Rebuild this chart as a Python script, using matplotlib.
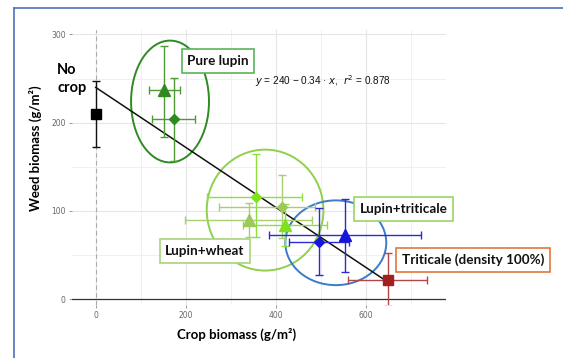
import matplotlib
matplotlib.use("Agg")
import matplotlib.pyplot as plt
from matplotlib.patches import Ellipse
from matplotlib.lines import Line2D

# ---------------- data ----------------
# points: label, x, y, x-err low/high, y-err low/high
pt_names   = ["No crop", "Lupin tri", "Lupin dia",
              "LW dia bright", "LW tri olive", "LW dia olive", "LW tri bright",
              "LT dia", "LT tri", "Triticale"]
pt_x       = [0, 152, 173, 355, 340, 414, 420, 496, 553, 648]
pt_y       = [210, 237, 204, 116, 90, 105, 84, 65, 73, 22]
pt_xlo     = [0, 118, 126, 248, 199, 274, 328, 430, 385, 561]
pt_xhi     = [0, 187, 221, 459, 481, 487, 513, 562, 721, 735]
pt_ylo     = [172, 184, 157, 70, 70, 69, 60, 27, 31, -8]
pt_yhi     = [247, 287, 251, 164, 109, 141, 108, 103, 114, 52]
pt_marker  = ["s", "^", "D", "D", "^", "D", "^", "D", "^", "s"]
pt_color   = ["#000000", "#2f8a1f", "#2f8a1f", "#7ee21c", "#9cc95a", "#9cc95a",
              "#7ee21c", "#1616d8", "#1616d8", "#a32020"]
pt_ecolor  = ["#111111", "#4f9a35", "#4f9a35", "#8be03a", "#a8d070", "#a8d070",
              "#8be03a", "#2b2bd0", "#2b2bd0", "#b04848"]

# group ellipses: centre x, centre y, width, height
ell_x      = [165, 376, 533]
ell_y      = [224, 101, 64]
ell_w      = [173, 259, 224]
ell_h      = [138, 137, 96]
ell_color  = ["#2e8b22", "#8fd04c", "#3a7cc8"]

# regression
intercept, slope, r2 = 240, -0.34, 0.878
fit_x = [0, 648]

xticks = [0, 200, 400, 600]
yticks = [0, 100, 200, 300]

# ---------------- figure ----------------
fig = plt.figure(figsize=(5.63, 3.58), dpi=100)
ax = fig.add_axes([72/563, 1-305/358, (446-72)/563, (305-30)/358])
ax.set_xlim(-52.6, 777.6)
ax.set_ylim(-6.5, 305)

ax.set_xticks(xticks)
ax.set_yticks(yticks)
ax.set_xticks([100, 300, 500, 700], minor=True)
ax.set_yticks([50, 150, 250], minor=True)
ax.grid(True, which="major", color="#e6e6e6", lw=0.8)
ax.grid(True, which="minor", color="#eeeeee", lw=0.6)
ax.set_axisbelow(True)
for s in ax.spines.values():
    s.set_visible(False)
ax.tick_params(which="major", length=2.5, width=0.6, color="#888888",
               labelsize=5.5, labelcolor="#666666", pad=2)
ax.tick_params(which="minor", length=0)

ax.axhline(0, color="#333333", lw=0.9, zorder=1)
ax.axvline(0, color="#aaaaaa", lw=0.8, ls=(0, (4, 3)), zorder=1)

# ellipses
for cx, cy, w, h, c in zip(ell_x, ell_y, ell_w, ell_h, ell_color):
    ax.add_patch(Ellipse((cx, cy), w, h, fill=False, ec=c, lw=1.4, zorder=2))

# regression line
ax.plot(fit_x, [intercept + slope * v for v in fit_x], color="#111111", lw=1.1, zorder=3)

# points
sizes = {"s": 7, "^": 8, "D": 5}
for i in range(len(pt_x)):
    x, y = pt_x[i], pt_y[i]
    xe = [[x - pt_xlo[i]], [pt_xhi[i] - x]]
    ye = [[y - pt_ylo[i]], [pt_yhi[i] - y]]
    ax.errorbar([x], [y], xerr=xe if pt_xhi[i] > pt_xlo[i] else None, yerr=ye,
                fmt="none", ecolor=pt_ecolor[i], elinewidth=1.0, capsize=3,
                capthick=1.0, zorder=4)
    ax.plot([x], [y], marker=pt_marker[i], ms=sizes[pt_marker[i]],
            color=pt_color[i], mec=pt_color[i], ls="none", zorder=5)


def px(xp, yp):
    return xp / 563, 1 - yp / 358


# equation
fig.text(*px(255, 81), r"$y$ = 240 − 0.34 · $x$,  $r^2$ = 0.878",
         fontsize=7.2, family=["Liberation Sans Narrow", "Liberation Sans", "DejaVu Sans"],
         va="center", ha="left", color="#111111")

lab_font = ["Lato", "DejaVu Sans"]
fig.text(*px(57, 79), "No\ncrop", fontsize=10.5, fontweight="bold", family=lab_font,
         ha="left", va="center", linespacing=1.45)

boxes = [("Pure lupin", 218, 61, "#5ab45a"),
         ("Lupin+wheat", 205, 251, "#a9d67c"),
         ("Lupin+triticale", 403.5, 209, "#98d466"),
         ("Triticale (density 100%)", 473, 260, "#e0783a")]
for txt, bx, by, ec in boxes:
    fig.text(*px(bx, by), txt, fontsize=9.7, fontweight="bold", family=lab_font,
             ha="center", va="center", color="#111111",
             bbox=dict(boxstyle="square,pad=0.42", fc="white", ec=ec, lw=1.2))

fig.text(*px(237, 334), "Crop biomass (g/m²)", fontsize=9.5, fontweight="bold",
         family=lab_font, ha="center", va="center")
fig.text(*px(35, 148), "Weed biomass (g/m²)", fontsize=9.5, fontweight="bold",
         family=lab_font, ha="center", va="center", rotation=90)

# blue frame
fig.add_artist(Line2D([14/563, 14/563], [0, 1 - 8/358], color="#4a72b8", lw=1.2))
fig.add_artist(Line2D([14/563, 1], [1 - 8/358, 1 - 8/358], color="#4a72b8", lw=1.2))

fig.savefig("out.png", dpi=100)
